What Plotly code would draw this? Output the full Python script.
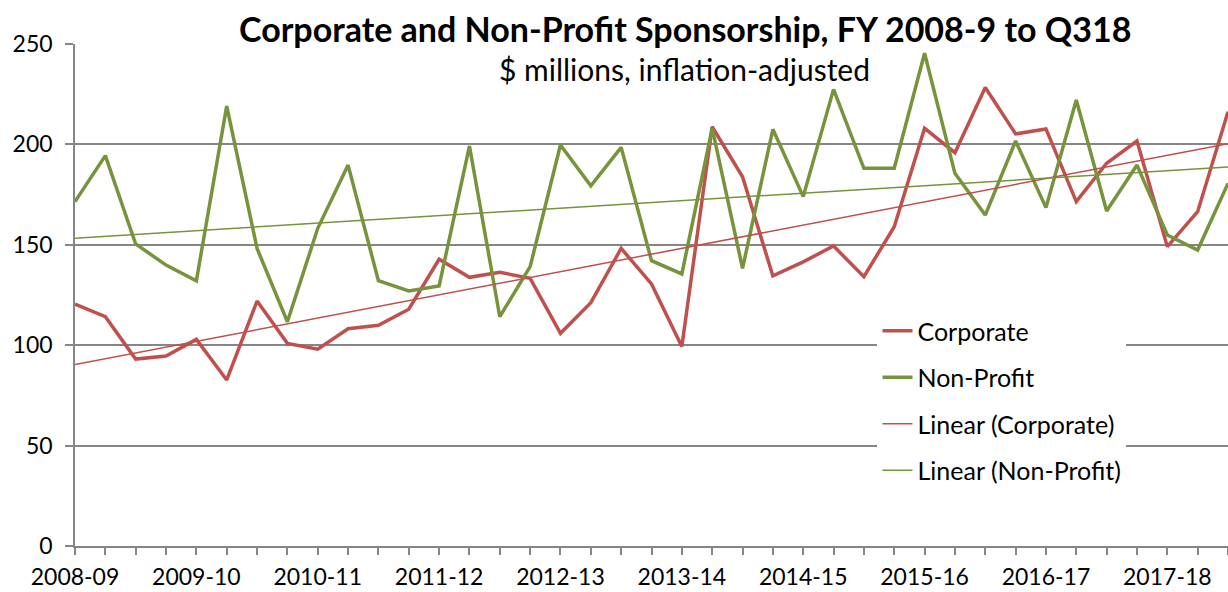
import numpy as np
import plotly.graph_objects as go

quarters = list(range(39))
year_labels = ["2008-09", "2009-10", "2010-11", "2011-12", "2012-13", "2013-14",
               "2014-15", "2015-16", "2016-17", "2017-18"]

corporate = [120.5, 114.2, 93.1, 94.6, 102.9, 82.7, 122.0, 100.9, 98.0, 108.2,
             109.9, 117.9, 142.8, 133.8, 136.3, 133.3, 105.9, 121.2, 148.2, 130.5,
             99.3, 208.8, 183.9, 134.5, 141.5, 149.4, 134.1, 159.0, 208.0, 195.9,
             228.3, 205.2, 207.7, 171.5, 190.6, 201.7, 149.1, 166.5, 216.3]
nonprofit = [171.5, 194.4, 150.4, 139.9, 132.1, 219.1, 148.2, 111.7, 158.2, 189.7,
             132.1, 127.0, 129.5, 199.2, 114.2, 139.1, 199.7, 179.4, 198.5, 142.1,
             135.5, 208.0, 138.3, 207.5, 174.0, 227.4, 188.1, 188.1, 245.4, 185.6,
             164.8, 201.7, 168.5, 222.1, 166.8, 189.7, 154.9, 147.4, 180.6]

RED = "#C0504D"
GREEN = "#77933C"
GRID = "#868686"
FONT = "Lato"

x = np.array(quarters, dtype=float)
cfit = np.polyfit(x, corporate, 1)
nfit = np.polyfit(x, nonprofit, 1)

fig = go.Figure()
fig.add_trace(go.Scatter(x=quarters, y=corporate, mode="lines", name="Corporate",
                         line=dict(color=RED, width=3.5), legendgroup="a"))
fig.add_trace(go.Scatter(x=quarters, y=nonprofit, mode="lines", name="Non-Profit",
                         line=dict(color=GREEN, width=3.5), legendgroup="b"))
fig.add_trace(go.Scatter(x=quarters, y=np.polyval(cfit, x), mode="lines",
                         name="Linear (Corporate)", line=dict(color=RED, width=1.5),
                         legendgroup="c"))
fig.add_trace(go.Scatter(x=quarters, y=np.polyval(nfit, x), mode="lines",
                         name="Linear (Non-Profit)", line=dict(color=GREEN, width=1.5),
                         legendgroup="d"))

tickvals = quarters
ticktext = [year_labels[i // 4] if i % 4 == 0 else "" for i in quarters]

fig.update_layout(
    width=1228, height=592,
    margin=dict(l=75, r=0, t=44, b=46),
    paper_bgcolor="white", plot_bgcolor="white",
    font=dict(family=FONT, size=23, color="black"),
    showlegend=True,
    legend=dict(x=0.696, y=0.474, xanchor="left", yanchor="top",
                bgcolor="white", font=dict(size=25, family=FONT),
                traceorder="grouped", tracegroupgap=11,
                borderwidth=0),
    xaxis=dict(range=[0, 38], tickmode="array", tickvals=tickvals, ticktext=ticktext,
               ticks="outside", ticklen=7, tickcolor=GRID, tickwidth=1.5,
               showline=True, linecolor=GRID, linewidth=1.5, automargin=False,
               showgrid=False, zeroline=False, tickfont=dict(size=23),
               ticklabelstandoff=3),
    yaxis=dict(range=[0, 250], dtick=50, ticks="outside", ticklen=8,
               tickcolor=GRID, tickwidth=1.5, automargin=False,
               showline=True, linecolor=GRID, linewidth=1.5,
               showgrid=True, gridcolor=GRID, gridwidth=1.5,
               zeroline=False, tickfont=dict(size=23), ticklabelstandoff=8),
    annotations=[
        dict(text="<b>Corporate and Non-Profit Sponsorship, FY 2008-9 to Q318</b>",
             xref="paper", yref="paper", x=0.529, y=1.03, xanchor="center",
             yanchor="middle", showarrow=False, font=dict(size=34, family=FONT)),
        dict(text="$ millions, inflation-adjusted",
             xref="paper", yref="paper", x=0.529, y=0.95, xanchor="center",
             yanchor="middle", showarrow=False, font=dict(size=30, family=FONT)),
    ],
)

fig.write_html(
    "out.html",
    config={"displayModeBar": False},
    post_script="document.body.style.margin='0';document.body.style.overflow='hidden';",
)
